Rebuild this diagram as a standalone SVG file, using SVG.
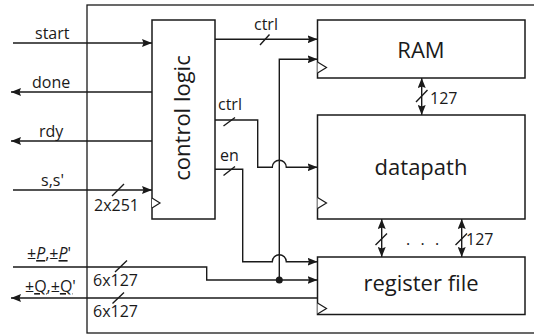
<svg xmlns="http://www.w3.org/2000/svg" width="534" height="334" viewBox="0 0 534 334">
<style>
.box{fill:#fff;stroke:#1a1a1a;stroke-width:1.5}
.ln{fill:none;stroke:#1a1a1a;stroke-width:1.4}
.ar{marker-end:url(#ah)}
.dar{marker-start:url(#ah);marker-end:url(#ah)}
.clk{fill:#fff;stroke:#1a1a1a;stroke-width:1.2}
.big{font-family:"Open Sans","Noto Sans",sans-serif;font-size:22px;fill:#1a1a1a}
.lbl{font-family:"Open Sans","Noto Sans",sans-serif;font-size:16px;fill:#1a1a1a}
</style>
<defs>
<marker id="ah" viewBox="0 0 10 8" refX="10" refY="4" markerWidth="10" markerHeight="8" markerUnits="userSpaceOnUse" orient="auto-start-reverse">
<path d="M0,0 L10,4 L0,8 L1.5,4 z" fill="#1a1a1a"/>
</marker>
</defs>
<rect x="87" y="5" width="470" height="328" fill="none" stroke="#1a1a1a" stroke-width="1.3"/>
<g id="connectors">
<path class="ln ar" d="M13,43 H152"/>
<path class="ln ar" d="M152,92 H11"/>
<path class="ln ar" d="M152,141 H11"/>
<path class="ln ar" d="M13,190 H152"/>
<path class="ln ar" d="M13,267 H206.7 V280 H317.5"/>
<path class="ln ar" d="M279.3,280 V59.3 H317.5"/>
<path class="ln ar" d="M317.5,298 H11"/>
<path class="ln ar" d="M215,39.3 H317.5"/>
<path class="ln ar" d="M215,120 H257.7 V167.3 H272.3 A7,7 0 0 1 286.3,167.3 H317.5"/>
<path class="ln ar" d="M215,169.3 H242.7 V261.7 H272.3 A7,7 0 0 1 286.3,261.7 H317.5"/>
<circle cx="279.3" cy="280" r="3.5" fill="#1a1a1a"/>
<path class="ln dar" d="M421.7,78 V115"/>
<path class="ln dar" d="M381.7,219 V257"/>
<path class="ln dar" d="M461.7,219 V257"/>
<path class="ln" d="M112,196 L124,184 M115,272 L127,260.5 M112.5,303.5 L124,292.5 M260,45 L269.5,34.5 M223.5,126 L235,117.5 M223.5,175.5 L235,166.5 M416,102 L427.5,90 M375.5,245 L387,233.5 M455.5,245 L467,233.5"/>
<text class="lbl" x="35" y="39">start</text>
<text class="lbl" x="32" y="88">done</text>
<text class="lbl" x="39" y="137">rdy</text>
<text class="lbl" x="41" y="186">s,s'</text>
<text class="lbl" x="94" y="211">2x251</text>
<text class="lbl" x="27" y="259">±<tspan font-style="italic" text-decoration="underline">P</tspan>,±<tspan font-style="italic" text-decoration="underline">P</tspan>'</text>
<text class="lbl" x="25" y="292">±<tspan text-decoration="underline">Q</tspan>,±<tspan text-decoration="underline">Q</tspan>'</text>
<text class="lbl" x="93" y="286">6x127</text>
<text class="lbl" x="93" y="317">6x127</text>
<text class="lbl" x="254" y="30">ctrl</text>
<text class="lbl" x="218" y="110">ctrl</text>
<text class="lbl" x="220" y="161">en</text>
<text class="lbl" x="430" y="104">127</text>
<text class="lbl" x="466" y="245">127</text>
<text class="lbl" x="406 420.5 435" y="245">...</text>
</g>
<g id="control-logic">
<rect class="box" x="152" y="20" width="63" height="199"/>
<path class="clk" d="M152,198 L160,203 L152,208"/>
<text class="big" transform="translate(190,118) rotate(-90)" text-anchor="middle">control logic</text>
</g>
<g id="ram">
<rect class="box" x="317.5" y="20" width="207.5" height="58"/>
<path class="clk" d="M317.5,62 L326.5,67.5 L317.5,73"/>
<text class="big" x="421" y="58" text-anchor="middle">RAM</text>
</g>
<g id="datapath">
<rect class="box" x="317.5" y="115" width="207.5" height="104"/>
<path class="clk" d="M317.5,197.5 L326.5,203 L317.5,208.5"/>
<text class="big" x="421" y="175" text-anchor="middle">datapath</text>
</g>
<g id="register-file">
<rect class="box" x="317.5" y="257" width="207.5" height="57.5"/>
<path class="clk" d="M317.5,303 L326.5,308.5 L317.5,314"/>
<text class="big" x="421" y="291" text-anchor="middle">register file</text>
</g>
</svg>
